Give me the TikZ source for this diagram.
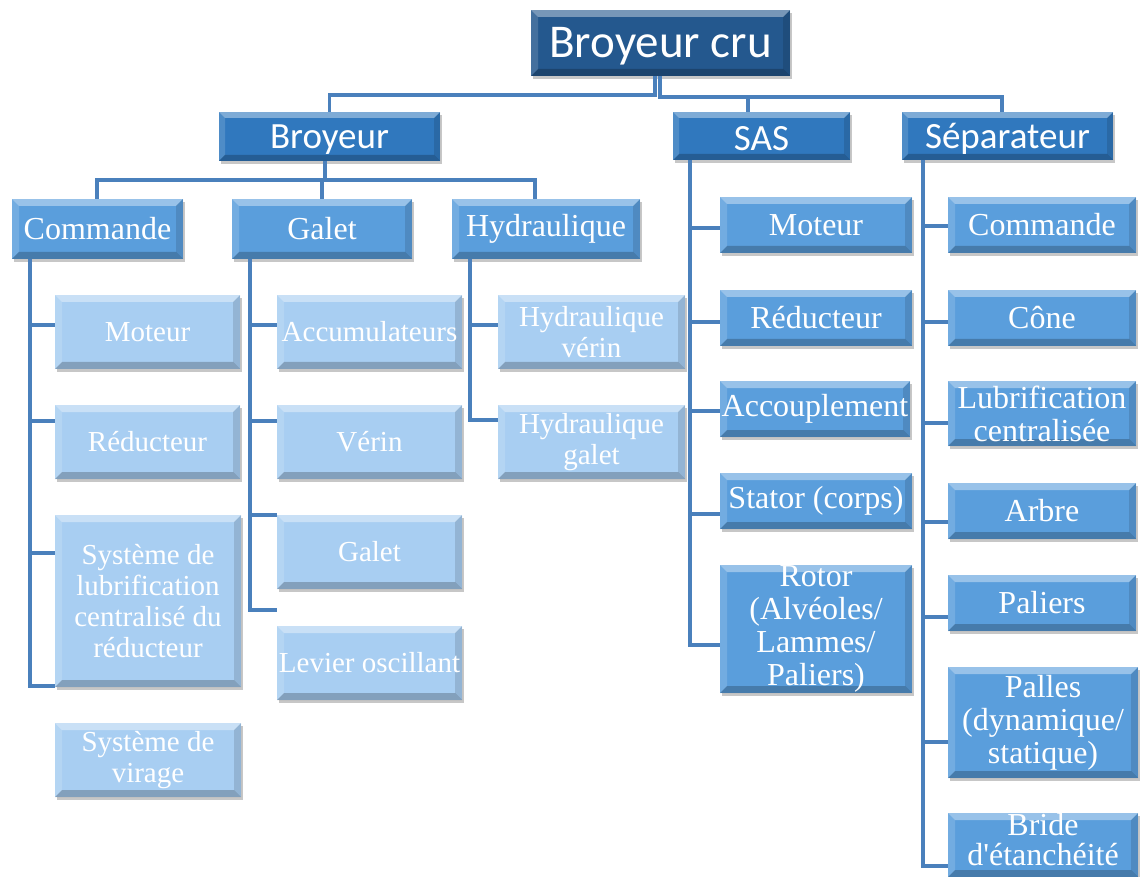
\documentclass[tikz,border=0pt]{standalone}
\usepackage{fontspec}
\setmainfont{Liberation Serif}
\newfontfamily\calfont{Carlito}
\usetikzlibrary{shadows}
\definecolor{rootc}{RGB}{36,88,142}
\definecolor{lvla}{RGB}{48,120,190}
\definecolor{lvlb}{RGB}{90,158,220}
\definecolor{lightc}{RGB}{168,206,242}
\definecolor{connc}{RGB}{74,128,188}
\newcommand\lowertext[1]{\raisebox{-3pt}[\height][\depth]{#1}}
\tikzset{
  bevel/.style={path picture={
    \fill[white,opacity=.38] (path picture bounding box.north west) -- (path picture bounding box.north east)
      -- ([shift={(-#1,-#1)}]path picture bounding box.north east) -- ([shift={(#1,-#1)}]path picture bounding box.north west) -- cycle;
    \fill[white,opacity=.15] (path picture bounding box.north west) -- ([shift={(#1,-#1)}]path picture bounding box.north west)
      -- ([shift={(#1,#1)}]path picture bounding box.south west) -- (path picture bounding box.south west) -- cycle;
    \fill[black,opacity=.12] (path picture bounding box.north east) -- ([shift={(-#1,-#1)}]path picture bounding box.north east)
      -- ([shift={(-#1,#1)}]path picture bounding box.south east) -- (path picture bounding box.south east) -- cycle;
    \fill[black,opacity=.22] (path picture bounding box.south west) -- (path picture bounding box.south east)
      -- ([shift={(-#1,#1)}]path picture bounding box.south east) -- ([shift={(#1,#1)}]path picture bounding box.south west) -- cycle;
  }},
  box/.style={inner sep=0pt, align=center, text=white,
    drop shadow={shadow xshift=2pt, shadow yshift=-3pt, opacity=.22, fill=black}},
  rootbox/.style={box, fill=rootc, bevel=7pt, font=\calfont\fontsize{47}{50}\selectfont},
  topbox/.style={box, fill=lvla, bevel=6pt, font=\calfont\fontsize{37}{40}\selectfont},
  midbox/.style={box, fill=lvlb, bevel=7pt, font=\fontsize{32}{33}\selectfont},
  leafbox/.style={box, fill=lightc, bevel=7pt, font=\fontsize{29}{31}\selectfont},
  conn/.style={draw=connc, line width=3.4pt},
}
\newcommand\bx[7]{\node[#6, minimum width={(#4-#2)*1pt}, minimum height={(#5-#3)*1pt}] (#1) at ({(#2+#4)/2},{(#3+#5)/2}) {#7};}
\begin{document}
\begin{tikzpicture}[x=1pt,y=-1pt]
\useasboundingbox[fill=white] (0,0) rectangle (1141,877);
% nodes
\bx{root}{531}{10}{790}{76}{rootbox}{\lowertext{Broyeur cru}}
\bx{broyeur}{219}{112}{440}{161}{topbox}{\lowertext{Broyeur}}
\bx{sas}{673}{112}{850}{160}{topbox}{\lowertext{SAS}}
\bx{sep}{902}{112}{1113}{160}{topbox}{\lowertext{Séparateur}}
\bx{cmd}{12}{199}{183}{259}{midbox}{Commande}
\bx{gal}{232}{199}{412}{259}{midbox}{Galet}
\bx{hyd}{452}{199}{640}{259}{midbox}{Hydraulique}
\bx{c1}{55}{295}{240}{369}{leafbox}{Moteur}
\bx{c2}{55}{405}{240}{479}{leafbox}{Réducteur}
\bx{c3}{55}{515}{241}{687}{leafbox}{Système de\\lubrification\\centralisé du\\réducteur}
\bx{c4}{55}{723}{241}{797}{leafbox}{Système de\\virage}
\bx{g1}{277}{295}{462}{369}{leafbox}{Accumulateurs}
\bx{g2}{277}{405}{462}{479}{leafbox}{Vérin}
\bx{g3}{277}{515}{462}{589}{leafbox}{Galet}
\bx{g4}{277}{626}{462}{700}{leafbox}{Levier oscillant}
\bx{h1}{498}{295}{685}{369}{leafbox}{Hydraulique\\vérin}
\bx{h2}{498}{405}{685}{479}{leafbox}{Hydraulique\\galet}
\bx{s1}{720}{197}{912}{253}{midbox}{Moteur}
\bx{s2}{720}{290}{912}{346}{midbox}{Réducteur}
\bx{s3}{720}{381}{910}{437}{midbox}{Accouplement}
\bx{s4}{720}{473}{912}{529}{midbox}{Stator (corps)}
\bx{s5}{720}{565}{912}{693}{midbox}{Rotor\\(Alvéoles/\\Lammes/\\Paliers)}
\bx{p1}{948}{197}{1136}{253}{midbox}{Commande}
\bx{p2}{948}{290}{1136}{346}{midbox}{Cône}
\bx{p3}{948}{381}{1136}{446}{midbox}{Lubrification\\centralisée}
\bx{p4}{948}{483}{1136}{539}{midbox}{Arbre}
\bx{p5}{948}{575}{1136}{631}{midbox}{Paliers}
\bx{p6}{948}{667}{1138}{778}{midbox}{Palles\\(dynamique/\\statique)}
\bx{p7}{948}{813}{1138}{877}{midbox}{\raisebox{1pt}[\height][\depth]{\begin{tabular}{@{}c@{}}Bride\\[-3pt]d\textquotesingle étanchéité\end{tabular}}}
% connectors: root
\draw[conn] (root.south -| 655,0) -- (655,95) -| (broyeur.north);
\draw[conn] (root.south -| 660,0) -- (660,97) -- (1002,97) -- (sep.north -| 1002,0);
\draw[conn] (sas.north -| 748,0) -- (748,97);
% Broyeur
\draw[conn] (broyeur.south -| 325,0) -- (325,180);
\draw[conn] (cmd.north -| 97,0) -- (97,180) -- (535,180) -- (hyd.north -| 535,0);
\draw[conn] (gal.north -| 322,0) -- (322,180);
% Commande
\draw[conn] (cmd.south -| 30,0) -- (30,686) -- (c3.west |- 0,686);
\draw[conn] (30,325) -- (c1.west |- 0,325);
\draw[conn] (30,421) -- (c2.west |- 0,421);
\draw[conn] (30,553) -- (c3.west |- 0,553);
% Galet
\draw[conn] (gal.south -| 250,0) -- (250,610) -- (g4.west |- 0,610);
\draw[conn] (250,325) -- (g1.west |- 0,325);
\draw[conn] (250,421) -- (g2.west |- 0,421);
\draw[conn] (250,515) -- (g3.west |- 0,515);
% Hydraulique
\draw[conn] (hyd.south -| 470,0) -- (470,420) -- (h2.west |- 0,420);
\draw[conn] (470,325) -- (h1.west |- 0,325);
% SAS
\draw[conn] (sas.south -| 690,0) -- (690,645) -- (s5.west |- 0,645);
\draw[conn] (690,228) -- (s1.west |- 0,228);
\draw[conn] (690,322) -- (s2.west |- 0,322);
\draw[conn] (690,411) -- (s3.west |- 0,411);
\draw[conn] (690,514) -- (s4.west |- 0,514);
% Separateur
\draw[conn] (sep.south -| 923,0) -- (923,866) -- (p7.west |- 0,866);
\draw[conn] (923,226) -- (p1.west |- 0,226);
\draw[conn] (923,322) -- (p2.west |- 0,322);
\draw[conn] (923,423) -- (p3.west |- 0,423);
\draw[conn] (923,522) -- (p4.west |- 0,522);
\draw[conn] (923,617) -- (p5.west |- 0,617);
\draw[conn] (923,742) -- (p6.west |- 0,742);
\end{tikzpicture}
\end{document}
